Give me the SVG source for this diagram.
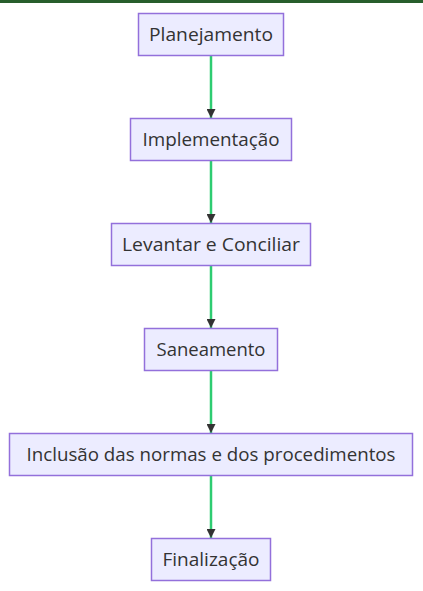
<svg xmlns="http://www.w3.org/2000/svg" width="423" height="591" viewBox="0 0 423 591">
<style>
.node rect{fill:#ECECFF;stroke:#9370DB;stroke-width:1.5}
.node text{font-family:"Open Sans","DejaVu Sans",sans-serif;font-size:18px;fill:#333;text-anchor:middle}
.edge{stroke:#2ecc71;stroke-width:2.5;fill:none}
</style>
<defs>
<marker id="arrow" viewBox="0 0 10 10" refX="10" refY="5" markerWidth="9" markerHeight="9" markerUnits="userSpaceOnUse" orient="auto">
<path d="M0,0 L10,5 L0,10 z" fill="#333"/>
</marker>
</defs>
<rect x="0" y="0" width="423" height="3" fill="#275e2c"/>
<g id="connectors">
<line class="edge" x1="211" y1="55.5" x2="211" y2="118" marker-end="url(#arrow)"/>
<line class="edge" x1="211" y1="160.5" x2="211" y2="223" marker-end="url(#arrow)"/>
<line class="edge" x1="211" y1="265.5" x2="211" y2="328" marker-end="url(#arrow)"/>
<line class="edge" x1="211" y1="370.5" x2="211" y2="433" marker-end="url(#arrow)"/>
<line class="edge" x1="211" y1="475.5" x2="211" y2="538" marker-end="url(#arrow)"/>
</g>
<g id="n1" class="node"><rect x="138.5" y="13.5" width="145" height="42"/><text x="211" y="41" textLength="124" lengthAdjust="spacingAndGlyphs">Planejamento</text></g>
<g id="n2" class="node"><rect x="130.5" y="118.5" width="161" height="42"/><text x="211" y="146" textLength="137" lengthAdjust="spacingAndGlyphs">Implementação</text></g>
<g id="n3" class="node"><rect x="111.5" y="223.5" width="199" height="42"/><text x="211" y="251" textLength="178" lengthAdjust="spacingAndGlyphs">Levantar e Conciliar</text></g>
<g id="n4" class="node"><rect x="144.5" y="328.5" width="133" height="42"/><text x="211" y="356" textLength="109" lengthAdjust="spacingAndGlyphs">Saneamento</text></g>
<g id="n5" class="node"><rect x="9.5" y="433.5" width="403" height="42"/><text x="211" y="461" textLength="369" lengthAdjust="spacingAndGlyphs">Inclusão das normas e dos procedimentos</text></g>
<g id="n6" class="node"><rect x="151.5" y="538.5" width="119" height="42"/><text x="211" y="566" textLength="97" lengthAdjust="spacingAndGlyphs">Finalização</text></g>
</svg>
